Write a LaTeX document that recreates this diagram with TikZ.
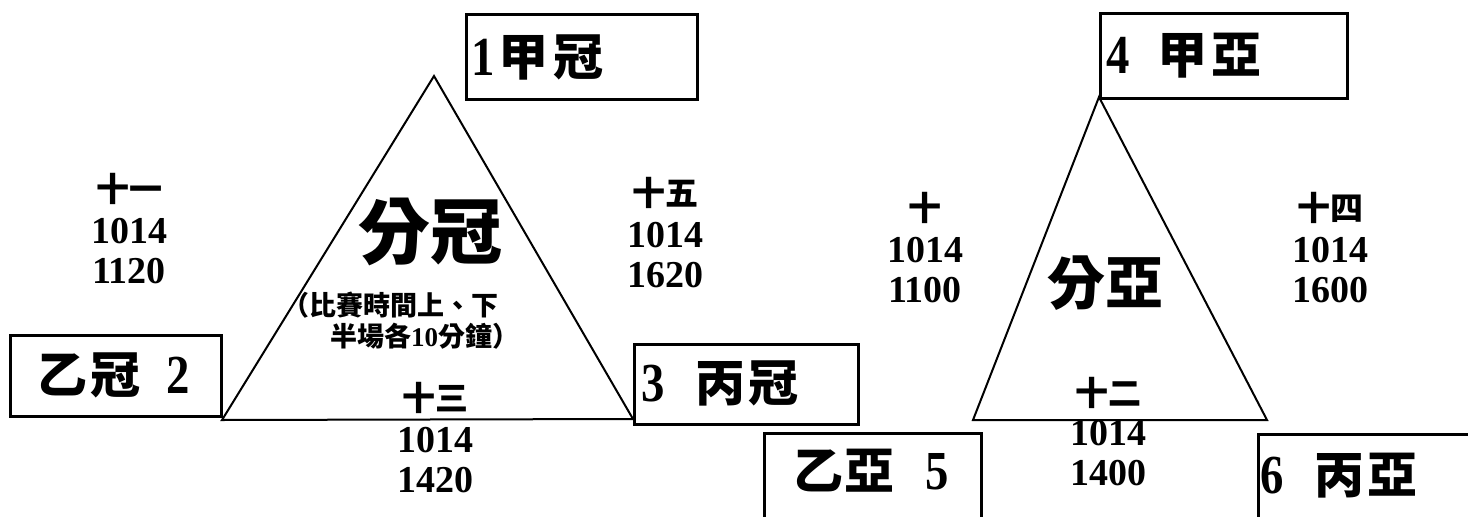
\documentclass[tikz,border=0pt]{standalone}
\usepackage{fontspec}
\setmainfont{Liberation Serif}
\newfontfamily\cjk{Noto Sans CJK TC}
\newfontfamily\numf{Liberation Serif}
\newfontfamily\numn{Liberation Serif}[FakeStretch=0.85]
\tikzset{
  tri/.style={line width=2pt, line join=miter},
  box/.style={draw, line width=2.8pt, rectangle, inner sep=0pt, anchor=north west},
  grp/.style={inner sep=0pt, align=center, anchor=north,
    font=\numf\bfseries\fontsize{38}{40}\selectfont},
  btext/.style={inner sep=0pt, anchor=west, font=\cjk\bfseries\fontsize{50}{50}\selectfont},
  note/.style={inner sep=0pt, anchor=west, font=\cjk\bfseries\fontsize{27}{27}\selectfont},
}
\newcommand{\cn}[1]{{\cjk\bfseries\fontsize{33}{40}\selectfont #1}}
\newcommand{\bd}[1]{{\numn\bfseries\fontsize{55}{55}\selectfont #1}}
\begin{document}
\begin{tikzpicture}[x=1pt,y=-1pt]
\useasboundingbox (0,0) rectangle (1468,517);
\clip (0,0) rectangle (1468,517);
\fill[white] (0,0) rectangle (1468,517);
% triangles
\coordinate (A1) at (434,76);
\coordinate (B1) at (222,420);
\coordinate (C1) at (633,419);
\draw[tri] (A1) -- (B1) -- (C1) -- cycle;
\coordinate (A2) at (1099,97);
\coordinate (B2) at (973,420);
\coordinate (C2) at (1267,420);
\draw[tri] (A2) -- (B2) -- (C2) -- cycle;
% boxes
\node[box, minimum width=231pt, minimum height=85pt] (b1) at (465,13) {};
\node[box, minimum width=211pt, minimum height=81pt] (b2) at (9,334) {};
\node[box, minimum width=224pt, minimum height=80pt] (b3) at (633,343) {};
\node[box, minimum width=247pt, minimum height=85pt] (b4) at (1099,12) {};
\node[box, minimum width=217pt, minimum height=110pt] (b5) at (763,432) {};
\node[box, minimum width=240pt, minimum height=110pt] (b6) at (1257,433) {};
% box texts
\node[btext] (t1) at (471,57) {\bd{1}\hspace{4pt}甲\hspace{5pt}冠};
\node[btext] (t2) at (37,375) {乙\hspace{3pt}冠\hspace{26pt}\bd{2}};
\node[btext] (t3) at (641,383) {\bd{3}\hspace{31pt}丙\hspace{3pt}冠};
\node[btext] (t4) at (1106,56) {\bd{4}\hspace{28pt}甲\hspace{4pt}亞};
\node[btext] (t5) at (793,471) {乙\hspace{1pt}亞\hspace{31pt}\bd{5}};
\node[btext] (t6) at (1260,476) {\bd{6}\hspace{31pt}丙\hspace{3pt}亞};
% big labels
\node[inner sep=0pt, font=\cjk\bfseries\fontsize{72}{72}\selectfont] (m1) at (430,232) {分冠};
\node[inner sep=0pt, font=\cjk\bfseries\fontsize{58}{58}\selectfont] (m2) at (1105,283) {分亞};
\node[note] (n1) at (282,305) {（比賽時間上、下};
\node[note] (n2) at (330,336) {半場各{\numf\bfseries 10}分鐘）};
% match groups
\node[grp] (g11) at (129,173) {\cn{十一}\\[2pt]1014\\1120};
\node[grp] (g15) at (665,177) {\cn{十五}\\[2pt]1014\\1620};
\node[grp] (g13) at (435,382) {\cn{十三}\\[2pt]1014\\1420};
\node[grp] (g10) at (925,192) {\cn{十}\\[2pt]1014\\1100};
\node[grp] (g14) at (1330,192) {\cn{十四}\\[2pt]1014\\1600};
\node[grp] (g12) at (1108,377) {\cn{十二}\\[0pt]1014\\1400};
\end{tikzpicture}
\end{document}
